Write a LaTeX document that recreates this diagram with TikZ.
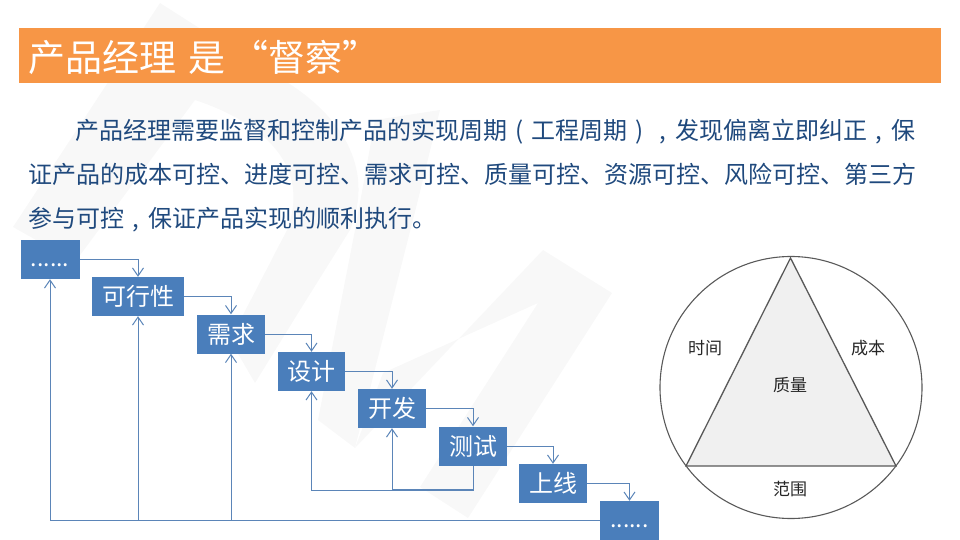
\documentclass[tikz,border=0pt]{standalone}
\usepackage{fontspec}
\setmainfont{Noto Sans CJK SC}
\usepackage{xcolor}
\usetikzlibrary{positioning}
\usetikzlibrary{arrows.meta}
\definecolor{barorange}{HTML}{F79646}
\definecolor{boxblue}{HTML}{4A7EBB}
\definecolor{lineblue}{HTML}{5B85B8}
\definecolor{bodyblue}{HTML}{1F497D}
\definecolor{markgray}{HTML}{F8F8F8}
\def\cell#1{\makebox[24pt][c]{#1}}
\tikzstyle{stepbox} = [fill=boxblue, text=white, minimum height=39pt, inner sep=0pt, font=\fontsize{24pt}{24pt}\selectfont]
\tikzstyle{dotbox} = [stepbox, minimum width=59pt, text height=14pt, font=\fontsize{23pt}{23pt}\selectfont]
\tikzstyle{bodyline} = [anchor=base west, inner sep=0pt, text=bodyblue, font=\fontsize{24pt}{24pt}\selectfont]
\tikzstyle{arrow} = [lineblue, line width=1pt, -{Straight Barb[length=8pt,width=11pt]}]
\tikzstyle{backline} = [lineblue, line width=1.6pt]
\tikzstyle{pmlabel} = [inner sep=0pt, text=black!85, font=\fontsize{17pt}{17pt}\selectfont]
\begin{document}
\begin{tikzpicture}[x=1pt,y=-1pt]
      \useasboundingbox (0,0) rectangle (960,540);
      %watermark
      \fill[markgray] (160,3)--(262,68)..controls (345,110) and (375,170) .. (350,230)--(300,310)--(255,383)--(230,340)--(287,230)..controls (310,170) and (270,125) .. (195,100)--(75,262)--(13,227)--cycle;
      \fill[markgray] (418,200)--(355,448)--(318,420)--(355,230)--(375,120)--(440,110)--cycle;
      \fill[markgray] (355,448)--(543,250)--(612,293)--(468,518)--(420,487)--(538,303)--(383,373)--cycle;
      %title
      \draw (480,55.5) node (bar) [fill=barorange, minimum width=922pt, minimum height=55pt, inner sep=0pt] {};
      \draw (28,57) node (title) [anchor=west, inner sep=0pt, text=white, font=\fontsize{37pt}{37pt}\selectfont] {产品经理\hspace{12pt}是\hspace{6pt}“督察”};
      %text
      \draw (75,140) node (t1) [bodyline] {产品经理需要监督和控制产品的实现周期\cell{(}工程周期\cell{)}\cell{,}发现偏离立即纠正\cell{,}保};
      \draw (28,183) node (t2) [bodyline] {证产品的成本可控、进度可控、需求可控、质量可控、资源可控、风险可控、第三方};
      \draw (28,227) node (t3) [bodyline] {参与可控\cell{,}保证产品实现的顺利执行。};
      %steps
      \draw (50,259.5) node (s1) [dotbox] {......};
      \draw (138,296.5) node (s2) [stepbox, minimum width=92pt] {可行性};
      \draw (231,334) node (s3) [stepbox, minimum width=68pt] {需求};
      \draw (311.5,371.5) node (s4) [stepbox, minimum width=67pt] {设计};
      \draw (392,408.5) node (s5) [stepbox, minimum width=68pt] {开发};
      \draw (473,446) node (s6) [stepbox, minimum width=68pt] {测试};
      \draw (553,483.5) node (s7) [stepbox, minimum width=68pt] {上线};
      \draw (629.5,520.5) node (s8) [dotbox] {......};
      \draw[arrow] (s1.east) -| (s2.north);
      \draw[arrow] (s2.east) -| (s3.north);
      \draw[arrow] (s3.east) -| (s4.north);
      \draw[arrow] (s4.east) -| (s5.north);
      \draw[arrow] (s5.east) -| (s6.north);
      \draw[arrow] (s6.east) -| (s7.north);
      \draw[arrow] (s7.east) -| (s8.north);
      %going back
      \coordinate (c1) at (473,490);
      \draw[arrow] (s8.west) -| (s1.south);
      \draw[arrow] (s2.south |- s8.west) -- (s2.south);
      \draw[arrow] (s3.south |- s8.west) -- (s3.south);
      \draw[backline] (s2.south |- s8.west) -- (s8.west);
      \draw[arrow] (s6.south) -- (c1) -| (s4.south);
      \draw[arrow] (s5.south |- c1) -- (s5.south);
      \draw[backline] (s5.south |- c1) -- (c1);
      %triangle
      \draw (791,387.5) node (ring) [circle, draw=black!65, line width=1.1pt, minimum size=262pt, inner sep=0pt] {};
      \coordinate (p1) at (790.5,258);
      \coordinate (p2) at (686,466);
      \coordinate (p3) at (896,466);
      \draw[fill=black!6, draw=black!65, line width=1.3pt] (p1)--(p2)--(p3)--cycle;
      \draw (705,348) node (l1) [pmlabel] {时间};
      \draw (868,348) node (l2) [pmlabel] {成本};
      \draw (790,385) node (l3) [pmlabel] {质量};
      \draw (790,489) node (l4) [pmlabel] {范围};
      \end{tikzpicture}
\end{document}
